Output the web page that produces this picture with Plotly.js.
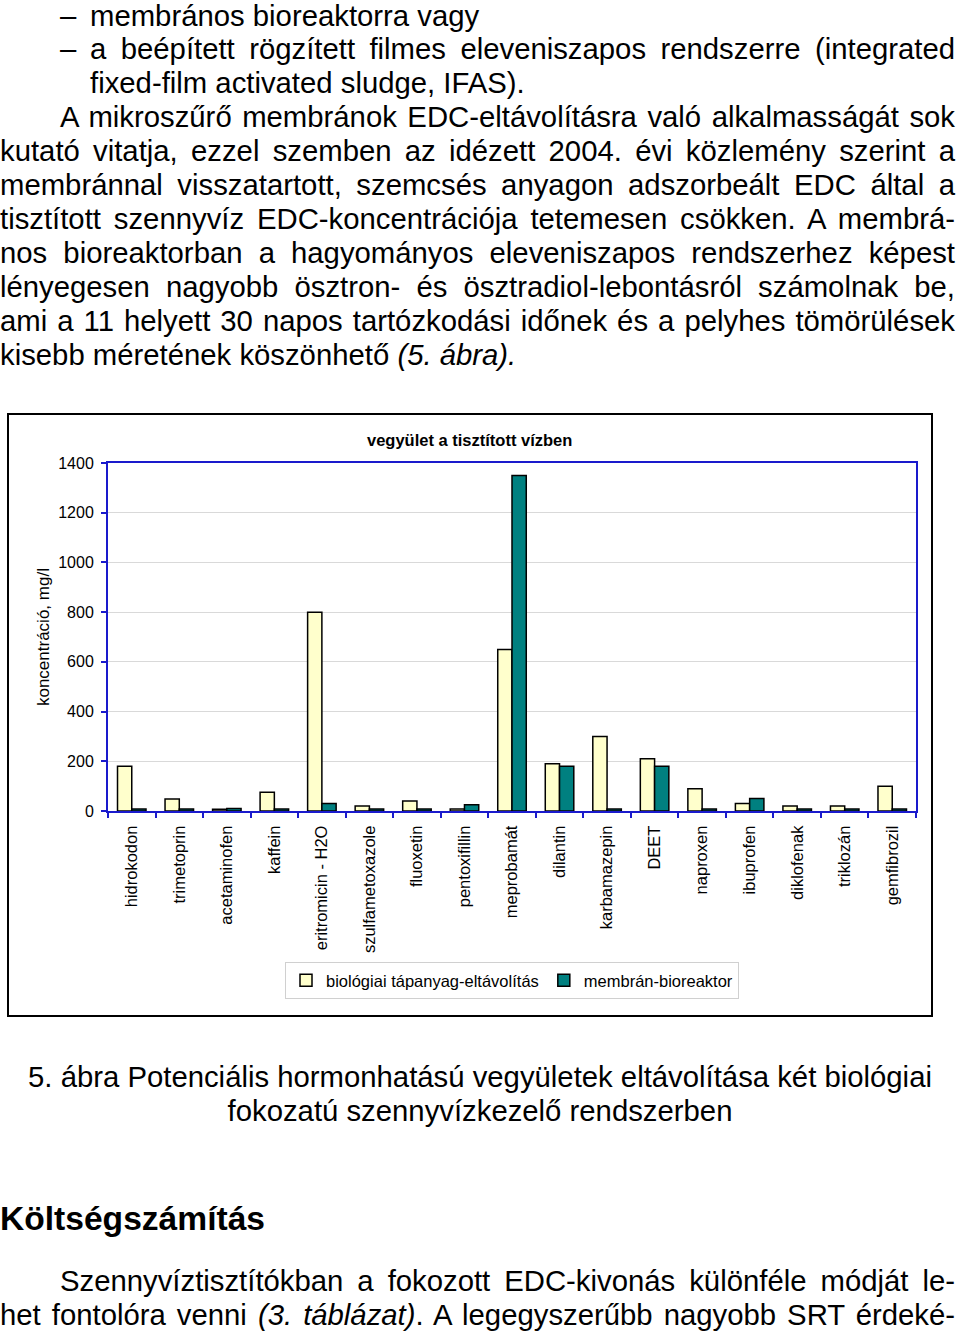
<!DOCTYPE html>
<html>
<head>
<meta charset="utf-8">
<script src="https://cdn.plot.ly/plotly-3.0.1.min.js"></script>
<style>
  html, body { margin: 0; padding: 0; background: #fff; }
  body { width: 960px; height: 1333px; position: relative; overflow: hidden;
         font-family: "Liberation Sans", Arial, sans-serif; color: #000; }
  .ln { position: absolute; height: 34px; line-height: 34px; font-size: 29.3px; white-space: nowrap; }
  .j { text-align: justify; text-align-last: justify; }
  .c { text-align: center; left: 0; width: 960px; }
  #frame { position: absolute; left: 7px; top: 413px; width: 926px; height: 604px;
           border: 2px solid #000; box-sizing: border-box; }
  #chart { position: absolute; left: 7px; top: 413px; width: 926px; height: 604px; }
</style>
</head>
<body>
<div class="ln" style="left:60px; top:-1px;">–</div>
<div class="ln" style="left:90px; top:-1px;">membrános bioreaktorra vagy</div>
<div class="ln" style="left:60px; top:32px;">–</div>
<div class="ln j" style="left:90px; width:865px; top:32px;">a beépített rögzített filmes eleveniszapos rendszerre (integrated</div>
<div class="ln" style="left:90px; top:66px;">fixed-film activated sludge, IFAS).</div>
<div class="ln j" style="left:60px; width:895px; top:100px;">A mikroszűrő membránok EDC-eltávolításra való alkalmasságát sok</div>
<div class="ln j" style="left:0px; width:955px; top:134px;">kutató vitatja, ezzel szemben az idézett 2004. évi közlemény szerint a</div>
<div class="ln j" style="left:0px; width:955px; top:168px;">membránnal visszatartott, szemcsés anyagon adszorbeált EDC által a</div>
<div class="ln j" style="left:0px; width:955px; top:202px;">tisztított szennyvíz EDC-koncentrációja tetemesen csökken. A membrá-</div>
<div class="ln j" style="left:0px; width:955px; top:236px;">nos bioreaktorban a hagyományos eleveniszapos rendszerhez képest</div>
<div class="ln j" style="left:0px; width:955px; top:270px;">lényegesen nagyobb ösztron- és ösztradiol-lebontásról számolnak be,</div>
<div class="ln j" style="left:0px; width:955px; top:304px;">ami a 11 helyett 30 napos tartózkodási időnek és a pelyhes tömörülések</div>
<div class="ln" style="left:0px; top:338px;">kisebb méretének köszönhető <i>(5. ábra).</i></div>

<div id="frame"></div>
<div id="chart"></div>

<div class="ln c" style="top:1060px;">5. ábra Potenciális hormonhatású vegyületek eltávolítása két biológiai</div>
<div class="ln c" style="top:1094px;">fokozatú szennyvízkezelő rendszerben</div>
<div class="ln" style="left:0px; top:1202px; font-size:33.6px; font-weight:bold;">Költségszámítás</div>
<div class="ln j" style="left:60px; width:895px; top:1264px;">Szennyvíztisztítókban a fokozott EDC-kivonás különféle módját le-</div>
<div class="ln j" style="left:0px; width:955px; top:1298px;">het fontolóra venni <i>(3. táblázat)</i>. A legegyszerűbb nagyobb SRT érdeké-</div>

<script>
const categories = ['hidrokodon','trimetoprin','acetaminofen','kaffein','eritromicin - H2O','szulfametoxazole','fluoxetin','pentoxifillin','meprobamát','dilantin','karbamazepin','DEET','naproxen','ibuprofen','diklofenak','triklozán','gemfibrozil'];
const bioValues = [180, 48, 7, 75, 800, 20, 40, 8, 650, 190, 300, 210, 90, 30, 20, 20, 100];
const mbrValues = [8, 8, 10, 8, 30, 8, 8, 25, 1350, 180, 8, 180, 8, 50, 8, 8, 8];
const seriesNames = ['biológiai tápanyag-eltávolítás', 'membrán-bioreaktor'];
const yTicks = [0, 200, 400, 600, 800, 1000, 1200, 1400];

const FONT = '"Liberation Sans", Arial, sans-serif';
const BLUE = '#1a1acc';

const traces = [
  { type: 'bar', name: seriesNames[0], x: categories, y: bioValues,
    marker: { color: '#ffffcc', line: { color: '#000', width: 1.5 } } },
  { type: 'bar', name: seriesNames[1], x: categories, y: mbrValues,
    marker: { color: '#008080', line: { color: '#000', width: 1.5 } } }
];

const layout = {
  width: 926, height: 604,
  margin: { l: 101, r: 17, t: 50, b: 206 },
  paper_bgcolor: 'rgba(0,0,0,0)', plot_bgcolor: '#fff',
  font: { family: FONT, size: 16.5, color: '#000' },
  barmode: 'group', bargap: 0.4, bargroupgap: 0,
  showlegend: true,
  legend: { orientation: 'h', x: 0.5, xanchor: 'center', y: -0.434, yanchor: 'top',
            bordercolor: '#d0d0d0', borderwidth: 1, itemwidth: 30,
            font: { family: FONT, size: 16.5, color: '#000' }, traceorder: 'normal' },
  xaxis: { type: 'category', tickangle: -90, showline: true, linecolor: BLUE, linewidth: 2,
           mirror: true, ticks: 'outside', tickson: 'boundaries', ticklen: 5, tickwidth: 2,
           tickcolor: BLUE, showgrid: false, ticklabelstandoff: 6,
           tickfont: { family: FONT, size: 16.5, color: '#000' }, fixedrange: true },
  yaxis: { range: [0, 1400], tickvals: yTicks, ticktext: yTicks.map(String),
           showline: true, linecolor: BLUE, linewidth: 2, mirror: true,
           ticks: 'outside', ticklen: 5, tickwidth: 2, tickcolor: BLUE,
           showgrid: true, gridcolor: '#d9d9d9', gridwidth: 1, zeroline: false,
           ticklabelstandoff: 4,
           tickfont: { family: FONT, size: 16, color: '#000' }, fixedrange: true },
  annotations: [
    { text: '<b>vegyület a tisztított vízben</b>', xref: 'paper', yref: 'paper',
      x: 0.448, y: 1.066, xanchor: 'center', yanchor: 'middle', showarrow: false,
      font: { family: FONT, size: 16.5, color: '#000' } },
    { text: 'koncentráció, mg/l', xref: 'paper', yref: 'paper', textangle: -90,
      x: -0.0804, y: 0.5, xanchor: 'center', yanchor: 'middle', showarrow: false,
      font: { family: FONT, size: 17, color: '#000' } }
  ]
};

Plotly.newPlot('chart', traces, layout, { displayModeBar: false, staticPlot: true });
</script>
</body>
</html>
